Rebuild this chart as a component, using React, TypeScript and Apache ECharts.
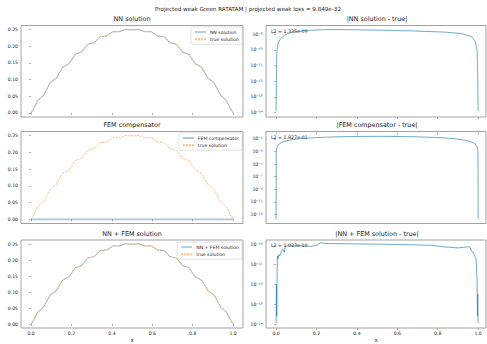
import React, { useEffect, useRef } from 'react';
import * as echarts from 'echarts';

const MAIN_TITLE = 'Projected weak Green RATATAM | projected weak loss = 9.849e-32';
const LEFT_TITLES = ['NN solution', 'FEM compensator', 'NN + FEM solution'];
const RIGHT_TITLES = ['|NN solution - true|', '|FEM compensator - true|', '|NN + FEM solution - true|'];
const L2_LABELS = ['L2 = 1.335e-09', 'L2 = 1.827e-01', 'L2 = 1.023e-10'];

const X_TICKS = [0, 0.2, 0.4, 0.6, 0.8, 1.0];
const U_TICKS = [0, 0.05, 0.1, 0.15, 0.2, 0.25];
const LOG_TICKS_TOP = [-14, -13, -12, -11, -10, -9];
const LOG_TICKS_MID = [-13, -11, -9, -7, -5, -3, -1];
const LOG_TICKS_BOT = [-14, -13, -12, -11, -10];

// sample positions of the solution curves (k/64)
const solutionX = Array.from({ length: 65 }, (_, k) => k / 64);
const trueSolution = [
  0, 0.0154, 0.0353, 0.0447, 0.0536, 0.072, 0.09, 0.0974, 0.1044, 0.1209, 0.1368, 0.1423, 0.1473,
  0.1619, 0.1759, 0.1794, 0.1825, 0.1951, 0.2062, 0.2087, 0.2108, 0.2205, 0.2296, 0.2302, 0.2314,
  0.238, 0.2442, 0.2439, 0.2441, 0.2478, 0.251, 0.2498, 0.2495, 0.2498, 0.251, 0.2478, 0.2441,
  0.2439, 0.2442, 0.238, 0.2314, 0.2302, 0.2296, 0.2205, 0.2108, 0.2087, 0.2062, 0.1951, 0.1825,
  0.1794, 0.1759, 0.1619, 0.1473, 0.1423, 0.1368, 0.1209, 0.1044, 0.0974, 0.09, 0.072, 0.0536,
  0.0447, 0.0353, 0.0154, 0,
];
const nnSolution = [...trueSolution];
const nnFemSolution = [...trueSolution];
const femX = [0, 1];
const femCompensator = [0, 0];

const nnErrX = [0, 0.001, 0.0017, 0.003, 0.005, 0.01, 0.018, 0.03, 0.043, 0.076, 0.142, 0.24, 0.34, 0.505, 0.67, 0.835, 0.917, 0.967, 0.987, 0.995, 0.997, 0.9983, 1];
const nnErr = [1.3e-14, 3e-13, 1e-12, 3e-11, 1.3e-10, 2.6e-10, 4.2e-10, 6.5e-10, 8.7e-10, 1.32e-9, 1.66e-9, 1.91e-9, 1.91e-9, 1.74e-9, 1.58e-9, 1.32e-9, 1.07e-9, 6.8e-10, 3.2e-10, 8e-11, 1.5e-11, 1e-12, 1.3e-14];

const femErrX = [0, 0.0005, 0.001, 0.002, 0.004, 0.007, 0.01, 0.02, 0.04, 0.07, 0.1, 0.15, 0.2, 0.3, 0.4, 0.5, 0.6, 0.7, 0.8, 0.85, 0.9, 0.93, 0.96, 0.98, 0.99, 0.993, 0.996, 0.998, 0.999, 0.9995, 1];
const femErr = [1.7e-14, 5e-4, 1e-3, 2e-3, 4e-3, 7e-3, 0.0099, 0.021, 0.039, 0.066, 0.092, 0.128, 0.16, 0.21, 0.24, 0.25, 0.24, 0.21, 0.16, 0.128, 0.092, 0.066, 0.039, 0.021, 0.0099, 7e-3, 4e-3, 2e-3, 1e-3, 5e-4, 1.7e-14];

const nnFemErrX = [0, 0.0017, 0.0033, 0.005, 0.0066, 0.01, 0.013, 0.018, 0.026, 0.035, 0.04, 0.046, 0.051, 0.11, 0.175, 0.2, 0.224, 0.233, 0.34, 0.505, 0.67, 0.77, 0.835, 0.9, 0.95, 0.959, 0.967, 0.975, 0.983, 0.99, 0.995, 0.9967, 0.9983, 1];
const nnFemErr = [1.1e-14, 1e-12, 2.5e-14, 3.2e-12, 2.7e-11, 1.9e-11, 3.2e-11, 2.7e-11, 4.8e-11, 5.8e-11, 4.3e-11, 8.3e-11, 8.9e-11, 8.9e-11, 8.3e-11, 9.3e-11, 1.29e-10, 1.17e-10, 1.12e-10, 1.07e-10, 1.0e-10, 9.3e-11, 7.8e-11, 6.9e-11, 7.9e-11, 7.8e-11, 4.8e-11, 4.3e-11, 2.7e-11, 1.9e-11, 1.4e-12, 2.5e-14, 3.2e-13, 1.1e-14];

const FONT = 'DejaVu Sans';
const TEXT = '#222';
const SPINE = '#8a8a8a';
const BLUE = '#1f77b4';
const ORANGE = '#ff7f0e';

const SUP: Record<string, string> = {
  '0': '⁰', '1': '¹', '2': '²', '3': '³', '4': '⁴', '5': '⁵', '6': '⁶', '7': '⁷', '8': '⁸', '9': '⁹', '-': '⁻',
};
const logLabel = (v: number) => '10' + String(Math.round(v)).split('').map((c) => SUP[c] ?? c).join('');

const pairs = (xs: number[], ys: number[]) => xs.map((x, i) => [x, ys[i]]);
const logPairs = (xs: number[], ys: number[]) => xs.map((x, i) => [x, Math.log10(ys[i])]);

export default function App() {
  const ref = useRef<HTMLDivElement>(null);
  useEffect(() => {
    if (!ref.current) return;
    const chart = echarts.init(ref.current, undefined, { renderer: 'svg' });

    const rows = [
      { top: 25.5, height: 91.5 },
      { top: 131.5, height: 92 },
      { top: 240, height: 91.5 },
    ];
    const LEFT = { left: 21, width: 222, max: 1.049 };
    const RIGHT = { left: 266, width: 220, max: 1.039 };

    const grid: any[] = [];
    const xAxis: any[] = [];
    const yAxis: any[] = [];
    const logRanges = [
      { min: -14.27, max: -8.46, ticks: LOG_TICKS_TOP },
      { min: -14.45, max: 0.17, ticks: LOG_TICKS_MID },
      { min: -14.2, max: -9.76, ticks: LOG_TICKS_BOT },
    ];
    const tickStyle = { show: true, length: 2, inside: false, lineStyle: { color: SPINE, width: 0.7 } };
    const labelBase = { color: TEXT, fontFamily: FONT, fontSize: 4.6 };

    rows.forEach((r, i) => {
      [LEFT, RIGHT].forEach((c, j) => {
        grid.push({
          left: c.left, top: r.top, width: c.width, height: r.height,
          show: true, borderColor: SPINE, borderWidth: 0.8, backgroundColor: 'transparent',
        });
        const bottom = i === 2;
        xAxis.push({
          type: 'value', gridIndex: grid.length - 1, min: -0.05, max: c.max,
          axisLine: { show: false }, splitLine: { show: false },
          axisTick: { ...tickStyle, customValues: X_TICKS },
          axisLabel: {
            show: bottom, customValues: X_TICKS, margin: 3, ...labelBase,
            formatter: (v: number) => v.toFixed(1),
          },
          name: bottom ? 'x' : '', nameLocation: 'middle', nameGap: 9,
          nameTextStyle: { color: TEXT, fontFamily: FONT, fontSize: 5.5 },
        });
        if (j === 0) {
          yAxis.push({
            type: 'value', gridIndex: grid.length - 1, min: -0.0125, max: 0.2625,
            axisLine: { show: false }, splitLine: { show: false },
            axisTick: { ...tickStyle, customValues: U_TICKS },
            axisLabel: { customValues: U_TICKS, margin: 3, ...labelBase, formatter: (v: number) => v.toFixed(2) },
          });
        } else {
          const lr = logRanges[i];
          yAxis.push({
            type: 'value', gridIndex: grid.length - 1, min: lr.min, max: lr.max,
            axisLine: { show: false }, splitLine: { show: false },
            axisTick: { ...tickStyle, customValues: lr.ticks },
            axisLabel: { customValues: lr.ticks, margin: 3.5, ...labelBase, formatter: logLabel },
          });
        }
      });
    });

    const solid = (name: string, idx: number, data: number[][], width = 1.1, opacity = 0.35) => ({
      type: 'line', name, xAxisIndex: idx, yAxisIndex: idx, data, symbol: 'none', showSymbol: false,
      lineStyle: { color: BLUE, width, opacity }, itemStyle: { color: BLUE },
      emphasis: { disabled: true }, silent: true,
    });
    const dashed = (idx: number, data: number[][]) => ({
      type: 'line', name: 'true solution', xAxisIndex: idx, yAxisIndex: idx, data, symbol: 'none', showSymbol: false,
      lineStyle: { color: ORANGE, width: 1, opacity: 0.55, type: [2, 1.1] }, itemStyle: { color: ORANGE },
      emphasis: { disabled: true }, silent: true,
    });
    const errLine = (name: string, idx: number, data: number[][]) => ({
      type: 'line', name, xAxisIndex: idx, yAxisIndex: idx, data, symbol: 'none', showSymbol: false,
      lineStyle: { color: BLUE, width: 0.9, opacity: 0.7 }, emphasis: { disabled: true }, silent: true,
    });

    const series = [
      solid('NN solution', 0, pairs(solutionX, nnSolution)),
      dashed(0, pairs(solutionX, trueSolution)),
      errLine('err NN', 1, logPairs(nnErrX, nnErr)),
      solid('FEM compensator', 2, pairs(femX, femCompensator), 1.8, 0.4),
      dashed(2, pairs(solutionX, trueSolution)),
      errLine('err FEM', 3, logPairs(femErrX, femErr)),
      solid('NN + FEM solution', 4, pairs(solutionX, nnFemSolution)),
      dashed(4, pairs(solutionX, trueSolution)),
      errLine('err NN+FEM', 5, logPairs(nnFemErrX, nnFemErr)),
    ];

    const legendBase = {
      orient: 'vertical', right: 245, itemWidth: 11, itemHeight: 5, itemGap: 2.2,
      padding: [2.5, 3, 2.5, 3], backgroundColor: 'rgba(255,255,255,0.8)',
      borderColor: '#d0d0d0', borderWidth: 0.6, borderRadius: 1.5, selectedMode: false,
      itemStyle: { opacity: 0, color: 'transparent', borderWidth: 0 },
      textStyle: { color: TEXT, fontFamily: FONT, fontSize: 4.6, padding: [0, 0, 0, -1] },
    };
    const legend = [
      { ...legendBase, top: 27, data: ['NN solution', 'true solution'] },
      { ...legendBase, top: 133, data: ['FEM compensator', 'true solution'] },
      { ...legendBase, top: 242, data: ['NN + FEM solution', 'true solution'] },
    ];

    const titleY = [19, 124.5, 234];
    const graphic: any[] = [
      {
        type: 'text', x: 248, y: 9.3,
        style: { text: MAIN_TITLE, align: 'center', verticalAlign: 'middle', fontFamily: FONT, fontSize: 5.6, fill: TEXT },
      },
    ];
    const l2Y = [31, 137.5, 245.5];
    rows.forEach((r, i) => {
      graphic.push({
        type: 'text', x: LEFT.left + LEFT.width / 2, y: titleY[i],
        style: { text: LEFT_TITLES[i], align: 'center', verticalAlign: 'middle', fontFamily: FONT, fontSize: 6.4, fill: TEXT },
      });
      graphic.push({
        type: 'text', x: 377, y: titleY[i],
        style: { text: RIGHT_TITLES[i], align: 'center', verticalAlign: 'middle', fontFamily: FONT, fontSize: 6.4, fill: TEXT },
      });
      graphic.push({
        type: 'text', x: 271, y: l2Y[i],
        style: { text: L2_LABELS[i], align: 'left', verticalAlign: 'middle', fontFamily: FONT, fontSize: 4.7, fill: TEXT },
      });
    });

    chart.setOption({
      animation: false,
      backgroundColor: '#ffffff',
      grid, xAxis, yAxis, series, legend, graphic,
    });
    return () => chart.dispose();
  }, []);
  return <div ref={ref} style={{ position: 'absolute', left: 0, top: 0, width: 487, height: 344 }} />;
}
